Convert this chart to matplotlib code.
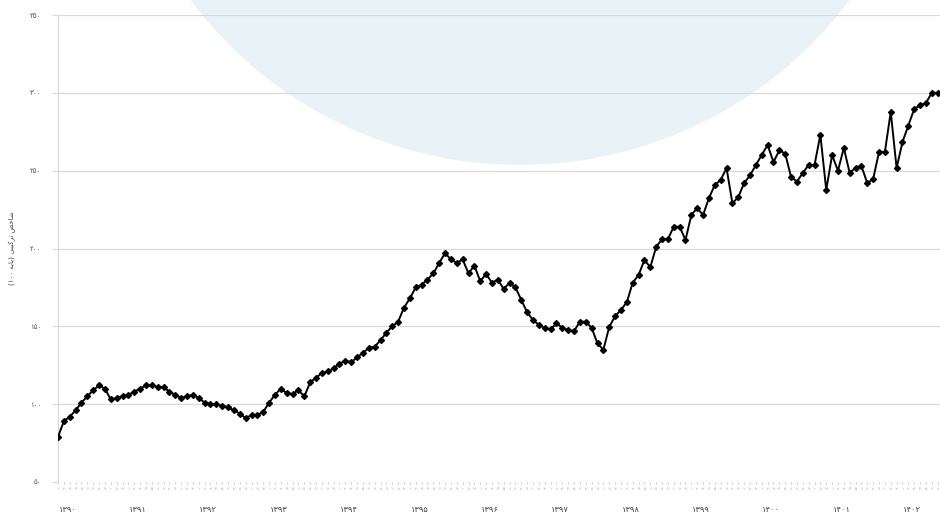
import matplotlib
matplotlib.use("Agg")
import matplotlib.pyplot as plt
from matplotlib.patches import Circle
from matplotlib.transforms import IdentityTransform

# ---------------- data ----------------
years = ["۱۳۹۰", "۱۳۹۱", "۱۳۹۲", "۱۳۹۳", "۱۳۹۴", "۱۳۹۵", "۱۳۹۶",
         "۱۳۹۷", "۱۳۹۸", "۱۳۹۹", "۱۴۰۰", "۱۴۰۱", "۱۴۰۲"]
month_labels = ["۱", "۲", "۳", "۴", "۵", "۶", "۷", "۸", "۹", "۱۰", "۱۱", "۱۲"]
y_ticks = [50, 100, 150, 200, 250, 300, 350]
y_tick_labels = ["۵۰", "۱۰۰", "۱۵۰", "۲۰۰", "۲۵۰", "۳۰۰", "۳۵۰"]

values = [
    79, 89, 92, 96, 101, 105, 109, 112, 110, 103, 104, 105, 106, 108, 110,
    112, 112, 111, 111, 108, 106, 104, 105, 106, 104, 101, 100, 100, 99, 98,
    96, 94, 91, 93, 93, 95,
    101, 106, 110, 107, 106.5, 109, 105, 114, 117, 120, 121, 123, 126, 128,
    127, 130, 133, 136, 137, 141, 146, 150, 153, 162, 168, 175,
    176.6, 180, 184, 190.7, 197, 193, 190.7, 193, 184, 189, 179, 183.6, 178,
    180, 174, 178, 175, 167, 159, 154, 151, 149, 148, 152, 149, 147.6, 147,
    153, 153, 149, 139, 135, 149.6, 156.6,
    160.5, 165.6, 178, 183, 192.6, 188, 201, 206, 206, 214, 214, 205.5, 221.5,
    226, 221.5, 232.4, 240.8, 244, 251.7, 229, 233, 242, 247, 253.6, 260,
    266.5, 255.6, 263,
    261, 246, 243, 248.5, 253.6, 253.6, 273, 237.6, 260, 250, 264.6, 248.5,
    252, 253, 242, 244.6, 262, 262, 287.7, 251.7, 268.4, 279, 289.6, 292,
    293.5, 300, 300,
]

# ---------------- minimal Persian shaping (presentation forms) ----------------
FORMS = {  # isolated, final, initial, medial
    'ا': ('\uFE8D', '\uFE8E', None, None),
    'ب': ('\uFE8F', '\uFE90', '\uFE91', '\uFE92'),
    'ت': ('\uFE95', '\uFE96', '\uFE97', '\uFE98'),
    'خ': ('\uFEA5', '\uFEA6', '\uFEA7', '\uFEA8'),
    'ر': ('\uFEAD', '\uFEAE', None, None),
    'ش': ('\uFEB5', '\uFEB6', '\uFEB7', '\uFEB8'),
    'ص': ('\uFEB9', '\uFEBA', '\uFEBB', '\uFEBC'),
    'ه': ('\uFEE9', '\uFEEA', '\uFEEB', '\uFEEC'),
    'پ': ('\uFB56', '\uFB57', '\uFB58', '\uFB59'),
    'ک': ('\uFB8E', '\uFB8F', '\uFB90', '\uFB91'),
    'ی': ('\uFBFC', '\uFBFD', '\uFBFE', '\uFBFF'),
}


def shape(word):
    out = []
    n = len(word)
    for i, c in enumerate(word):
        if c not in FORMS:
            out.append(c)
            continue
        prev = word[i - 1] if i > 0 else None
        nxt = word[i + 1] if i < n - 1 else None
        jp = prev in FORMS and FORMS[prev][2] is not None
        jn = FORMS[c][2] is not None and nxt in FORMS
        iso, fin, ini, med = FORMS[c]
        out.append(med if (jp and jn) else fin if jp else ini if jn else iso)
    return ''.join(out)


def rtl(word):
    return shape(word)[::-1]


y_label = "(" + "۱۰۰" + " " + rtl("پایه") + ")" + " " + rtl("ترکیبی") + " " + rtl("شاخص")

# ---------------- figure ----------------
plt.rcParams['font.family'] = ['DejaVu Sans']
fig = plt.figure(figsize=(9.4, 5.17), dpi=100)
ax = fig.add_axes([58 / 940, 1 - 482 / 517, 882 / 940, 467 / 517])

# pale blue watermark disc
disc = Circle((520, 517 + 247), 412, transform=IdentityTransform(),
              facecolor='#e9f3f7', edgecolor='none', zorder=0, clip_on=False)
ax.add_artist(disc)
ax.patch.set_alpha(0)

x = list(range(len(values)))
ax.plot(x, values, color='black', lw=1.4, marker='D', ms=3.0, zorder=3)

ax.set_ylim(50, 350)
ax.set_xlim(0, len(values) - 1 + 0.4)
ax.set_yticks(y_ticks)
ax.set_yticklabels(y_tick_labels, fontsize=5, color='#555555')
ax.yaxis.grid(True, color='#d9d9d9', lw=0.9, zorder=0.5)
ax.tick_params(axis='y', length=4, color='#d9d9d9', pad=8)

for s in ['top', 'right', 'bottom']:
    ax.spines[s].set_visible(False)
ax.spines['left'].set_color('#d9d9d9')
ax.spines['left'].set_linewidth(0.9)

# month ticks (tiny) + year labels
ax.set_xticks(x)
ax.set_xticklabels([month_labels[i % 12] for i in x], fontsize=2.8,
                   color='#999999')
ax.tick_params(axis='x', length=1.5, color='#cccccc', pad=2)
for k, yr in enumerate(years):
    ax.text(12 * k + 1.6, -0.058, yr, transform=ax.get_xaxis_transform(),
            ha='center', va='center', fontsize=6, color='#444444')

fig.text(12 / 940, 1 - 248 / 517, y_label, rotation=90, ha='center',
         va='center', fontsize=5, color='#444444')

fig.savefig("out.png", dpi=100)
